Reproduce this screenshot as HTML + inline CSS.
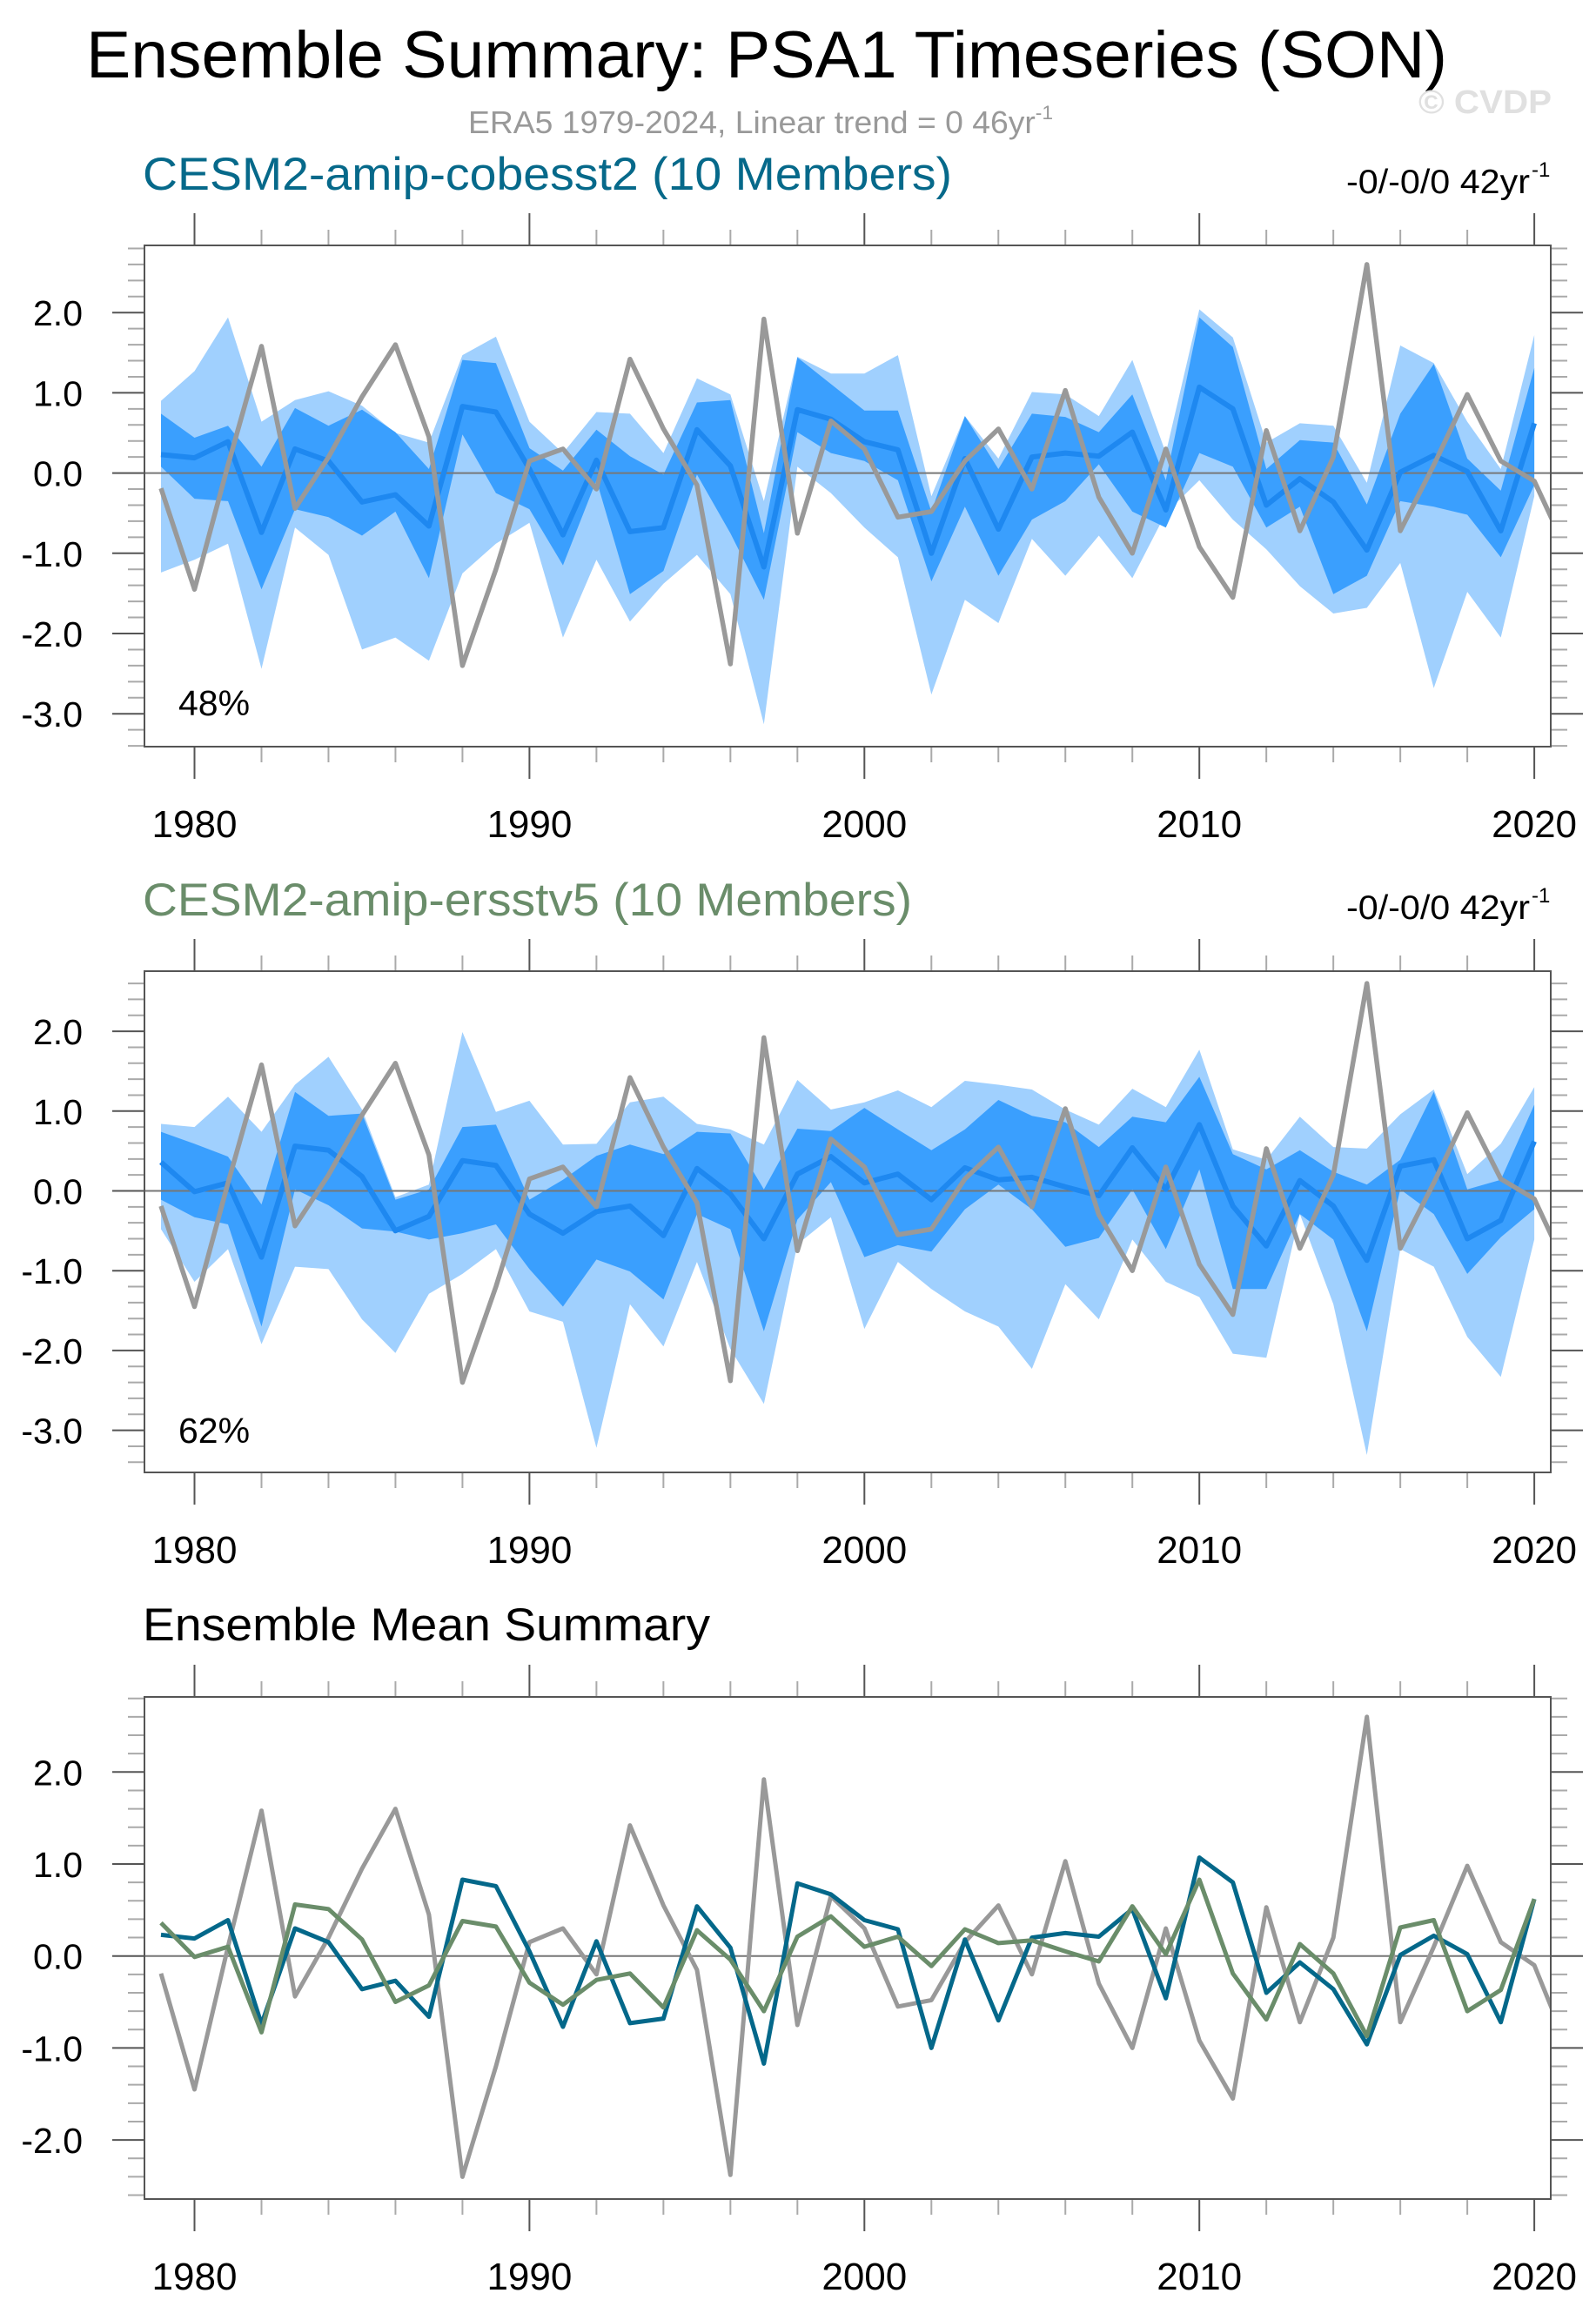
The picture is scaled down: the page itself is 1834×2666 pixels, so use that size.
<!DOCTYPE html>
<html><head><meta charset="utf-8"><style>
html,body{margin:0;padding:0;background:#fff}
svg{display:block}
text{font-family:"Liberation Sans",sans-serif}
</style></head><body>
<svg id="chart" width="1834" height="2666" viewBox="0 0 1834 2666" xmlns="http://www.w3.org/2000/svg">
<rect width="1834" height="2666" fill="#fff"/>
<text x="99" y="89" font-size="76" textLength="1564" lengthAdjust="spacingAndGlyphs" fill="#000">Ensemble Summary: PSA1 Timeseries (SON)</text>
<text x="538" y="153" font-size="36" fill="#999" textLength="672" lengthAdjust="spacingAndGlyphs">ERA5 1979-2024, Linear trend = 0 46yr<tspan font-size="22" dy="-16">-1</tspan></text>
<text x="1630" y="130" font-size="38" font-weight="bold" fill="#e0e0e0" textLength="153" lengthAdjust="spacingAndGlyphs">© CVDP</text>
<text x="164" y="218" font-size="53" fill="#06698a" textLength="930" lengthAdjust="spacingAndGlyphs">CESM2-amip-cobesst2 (10 Members)</text>
<text x="1547" y="222" font-size="39" fill="#000" textLength="211" lengthAdjust="spacingAndGlyphs">-0/-0/0 42yr</text><text x="1760" y="203" font-size="24">-1</text>
<text x="164" y="1052" font-size="53" fill="#6a8d6a" textLength="884" lengthAdjust="spacingAndGlyphs">CESM2-amip-ersstv5 (10 Members)</text>
<text x="1547" y="1056" font-size="39" fill="#000" textLength="211" lengthAdjust="spacingAndGlyphs">-0/-0/0 42yr</text><text x="1760" y="1037" font-size="24">-1</text>
<text x="164" y="1885" font-size="53" fill="#000" textLength="652" lengthAdjust="spacingAndGlyphs">Ensemble Mean Summary</text>
<text x="205" y="822" font-size="41">48%</text>
<text x="205" y="1658" font-size="41">62%</text>
</svg>
<script>
const years = [];
for (let y = 1979; y <= 2020; y++) years.push(y);
const obsYears = years.concat([2021]);
const era5 = [-0.19,-1.45,0.1,1.58,-0.44,0.2,0.95,1.6,0.45,-2.4,-1.2,0.15,0.3,-0.2,1.42,0.55,-0.15,-2.38,1.92,-0.75,0.65,0.3,-0.55,-0.48,0.15,0.55,-0.2,1.03,-0.3,-1.0,0.3,-0.92,-1.55,0.53,-0.72,0.2,2.6,-0.72,0.1,0.98,0.15,-0.1,-1.0];
const cobMean = [0.23,0.19,0.39,-0.74,0.3,0.15,-0.36,-0.27,-0.66,0.83,0.76,0.05,-0.77,0.16,-0.73,-0.68,0.54,0.09,-1.17,0.79,0.67,0.39,0.29,-1.0,0.18,-0.7,0.2,0.25,0.21,0.51,-0.46,1.07,0.8,-0.4,-0.07,-0.36,-0.96,0.01,0.22,0.02,-0.72,0.62];
const ersMean = [0.36,-0.01,0.1,-0.83,0.56,0.51,0.18,-0.5,-0.32,0.38,0.32,-0.29,-0.53,-0.26,-0.19,-0.56,0.28,-0.04,-0.6,0.21,0.43,0.1,0.21,-0.11,0.29,0.14,0.17,0.05,-0.06,0.54,0.02,0.83,-0.19,-0.69,0.13,-0.19,-0.87,0.31,0.39,-0.6,-0.37,0.62];
const cobMax = [0.9,1.27,1.94,0.64,0.91,1.02,0.84,0.5,0.38,1.47,1.7,0.64,0.25,0.76,0.74,0.25,1.18,0.98,-0.35,1.45,1.24,1.24,1.47,-0.29,0.71,0.18,1.01,0.98,0.71,1.41,0.25,2.04,1.69,0.38,0.62,0.59,-0.12,1.59,1.37,0.64,0.05,1.72];
const cobMin = [-1.24,-1.08,-0.88,-2.44,-0.68,-1.02,-2.2,-2.05,-2.34,-1.25,-0.88,-0.62,-2.05,-1.08,-1.85,-1.38,-1.02,-1.51,-3.13,0.08,-0.25,-0.68,-1.05,-2.76,-1.58,-1.87,-0.82,-1.28,-0.78,-1.31,-0.5,-0.09,-0.58,-0.95,-1.41,-1.75,-1.68,-1.12,-2.68,-1.48,-2.05,-0.29];
const cobHi = [0.74,0.44,0.59,0.08,0.81,0.59,0.79,0.51,0.05,1.41,1.37,0.31,0.03,0.54,0.21,-0.02,0.88,0.91,-0.75,1.44,1.11,0.78,0.78,-0.48,0.71,0.05,0.74,0.7,0.51,0.98,-0.09,1.94,1.57,0.05,0.41,0.38,-0.39,0.74,1.36,0.18,-0.22,1.31];
const cobLo = [0.08,-0.32,-0.35,-1.45,-0.45,-0.55,-0.78,-0.48,-1.31,0.48,-0.25,-0.45,-1.15,-0.09,-1.51,-1.22,-0.02,-0.75,-1.58,0.51,0.25,0.15,-0.09,-1.35,-0.42,-1.28,-0.58,-0.35,0.11,-0.48,-0.68,0.25,0.08,-0.68,-0.42,-1.51,-1.28,-0.35,-0.42,-0.52,-1.05,-0.15];
const ersMax = [0.84,0.8,1.18,0.74,1.33,1.68,1.02,-0.08,0.08,1.99,0.99,1.13,0.58,0.59,1.11,1.18,0.84,0.77,0.58,1.39,1.02,1.11,1.26,1.05,1.38,1.33,1.27,1.02,0.83,1.28,1.05,1.77,0.52,0.39,0.93,0.55,0.53,0.96,1.27,0.21,0.59,1.3];
const ersMin = [-0.48,-1.14,-0.73,-1.92,-0.95,-0.98,-1.61,-2.03,-1.29,-1.04,-0.73,-1.51,-1.64,-3.22,-1.42,-1.95,-0.89,-1.98,-2.67,-0.67,-0.33,-1.73,-0.89,-1.23,-1.51,-1.7,-2.23,-1.17,-1.61,-0.61,-1.14,-1.33,-2.04,-2.09,-0.29,-1.42,-3.31,-0.73,-0.95,-1.83,-2.33,-0.61];
const ersHi = [0.74,0.59,0.43,-0.17,1.24,0.94,0.97,-0.11,0.02,0.8,0.83,-0.11,0.14,0.44,0.58,0.46,0.74,0.72,0.02,0.78,0.75,1.04,0.77,0.51,0.77,1.14,0.94,0.86,0.55,0.93,0.86,1.43,0.46,0.27,0.51,0.24,0.08,0.39,1.24,0.02,0.14,1.08];
const ersLo = [-0.11,-0.33,-0.42,-1.7,0.02,-0.18,-0.47,-0.51,-0.61,-0.53,-0.42,-0.98,-1.45,-0.86,-1.01,-1.36,-0.29,-0.48,-1.76,-0.36,0.11,-0.83,-0.68,-0.76,-0.23,0.08,-0.23,-0.7,-0.59,0.02,-0.73,0.27,-1.23,-1.23,-0.29,-0.61,-1.76,0.02,-0.29,-1.04,-0.58,-0.23];
const xTickYears = [1980,1990,2000,2010,2020];
const yTicks12 = ["2.0","1.0","0.0","-1.0","-2.0","-3.0"];
const yTicks3 = ["2.0","1.0","0.0","-1.0","-2.0"];

const NS = "http://www.w3.org/2000/svg";
const svg = document.getElementById("chart");
const L = 166, R = 1782;
function xs(yr){ return 223.5 + (yr - 1980) * 38.49; }
function mk(tag, attrs, parent){
  const e = document.createElementNS(NS, tag);
  for (const k in attrs) e.setAttribute(k, attrs[k]);
  (parent || svg).appendChild(e);
  return e;
}
function linePath(xsArr, vals, ys){
  return vals.map((v,i)=>(i?"L":"M")+xs(xsArr[i]).toFixed(1)+","+ys(v).toFixed(1)).join(" ");
}
function bandPath(hi, lo, ys){
  let d = hi.map((v,i)=>(i?"L":"M")+xs(years[i]).toFixed(1)+","+ys(v).toFixed(1)).join(" ");
  for (let i = lo.length-1; i >= 0; i--) d += " L"+xs(years[i]).toFixed(1)+","+ys(lo[i]).toFixed(1);
  return d + " Z";
}
function panel(id, top, bottom, zero, unit, labels, minV, maxV){
  const ys = v => zero - v * unit;
  const g = mk("g", {});
  
  
  const cp = mk("clipPath", {id: id+"-clip"}, g);
  mk("rect", {x:L, y:top, width:R-L, height:bottom-top}, cp);
  const plot = mk("g", {"clip-path":"url(#"+id+"-clip)"}, g);
  // x ticks
  for (let yr = 1980; yr <= 2020; yr += 2){
    const major = yr % 10 === 0;
    const len = major ? 37 : 18;
    const t1 = mk("line", {x1:xs(yr), x2:xs(yr), y1:top-len, y2:top, stroke:major?"#555":"#aaa", "stroke-width":2}, g);
    
    
    const t2 = mk("line", {x1:xs(yr), x2:xs(yr), y1:bottom, y2:bottom+len, stroke:major?"#555":"#aaa", "stroke-width":2}, g);
    
    
  }
  xTickYears.forEach(yr=>{
    const t = mk("text", {x:xs(yr), y:bottom+104, "font-size":44, "text-anchor":"middle"}, g);
    t.textContent = String(yr);
    
    
  });
  // y ticks
  for (let k = Math.round(minV*5); k <= Math.round(maxV*5); k++){
    const v = k/5, y = ys(v);
    if (y < top-1 || y > bottom+1) continue;
    const major = k % 5 === 0;
    const len = major ? 37 : 19;
    const a = mk("line", {x1:L-len, x2:L, y1:y, y2:y, stroke:major?"#555":"#aaa", "stroke-width":2}, g);
    
    
    const b = mk("line", {x1:R, x2:R+len, y1:y, y2:y, stroke:major?"#555":"#aaa", "stroke-width":2}, g);
    
    
  }
  labels.forEach(s=>{
    const t = mk("text", {x:95, y:ys(parseFloat(s))+15, "font-size":41, "text-anchor":"end"}, g);
    t.textContent = s;
    
    
  });
  return {ys, plot, g};
}
function frame(p, top, bottom){
  const f = mk("rect", {x:L, y:top, width:R-L, height:bottom-top, fill:"none", stroke:"#555", "stroke-width":2}, p.g);
  
  
}
function zeroLine(p){
  const z = mk("line", {x1:L, x2:R, y1:p.ys(0), y2:p.ys(0), stroke:"#777", "stroke-width":2}, p.plot);
  
  
}
function ensemblePanel(id, top, bottom, zero, unit, mx, mn, hi, lo, mean){
  const p = panel(id, top, bottom, zero, unit, yTicks12, -3.4, 2.8);
  const b1 = mk("path", {d:bandPath(mx, mn, p.ys), fill:"#a0d0fe"}, p.plot);
  
  
  const b2 = mk("path", {d:bandPath(hi, lo, p.ys), fill:"#3a9ffe"}, p.plot);
  
  
  zeroLine(p);
  const m = mk("path", {d:linePath(years, mean, p.ys), fill:"none", stroke:"#1e88f0", "stroke-width":6, "stroke-linejoin":"round"}, p.plot);
  
  
  const o = mk("path", {d:linePath(obsYears, era5, p.ys), fill:"none", stroke:"#999", "stroke-width":5.5, "stroke-linejoin":"round"}, p.plot);
  
  
  frame(p, top, bottom);
}
ensemblePanel("panel-cobesst2", 282, 858, 543.6, 92.2, cobMax, cobMin, cobHi, cobLo, cobMean);
ensemblePanel("panel-ersstv5", 1116, 1692, 1368.5, 91.7, ersMax, ersMin, ersHi, ersLo, ersMean);

const p3 = panel("panel-ensemble-mean", 1950, 2527, 2247.7, 105.7, yTicks3, -2.6, 2.8);
zeroLine(p3);
const lo3 = mk("path", {d:linePath(obsYears, era5, p3.ys), fill:"none", stroke:"#999", "stroke-width":5, "stroke-linejoin":"round"}, p3.plot);


const lc3 = mk("path", {d:linePath(years, cobMean, p3.ys), fill:"none", stroke:"#04688a", "stroke-width":5, "stroke-linejoin":"round"}, p3.plot);


const le3 = mk("path", {d:linePath(years, ersMean, p3.ys), fill:"none", stroke:"#6a8d6a", "stroke-width":5, "stroke-linejoin":"round"}, p3.plot);


frame(p3, 1950, 2527);
</script>
</body></html>
